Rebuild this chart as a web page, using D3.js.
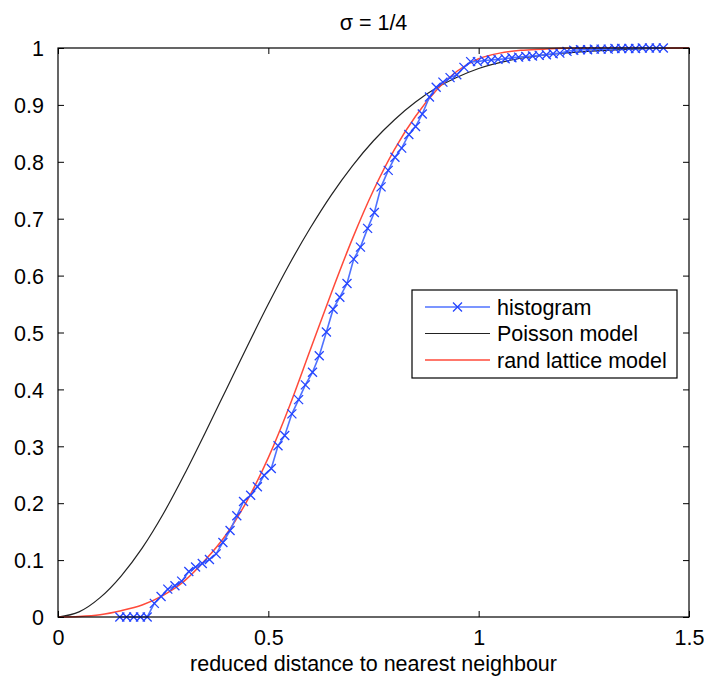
<!DOCTYPE html>
<html>
<head>
<meta charset="utf-8">
<script src="https://cdn.jsdelivr.net/npm/d3@7"></script>
<style>
  html, body { margin: 0; padding: 0; background: #fff; }
  svg text { font-family: "Liberation Sans", Arial, Helvetica, sans-serif; }
</style>
</head>
<body>
<div id="chart"></div>
<script>
(function drawChart() {
  const TITLE = 'σ = 1/4';
  const X_LABEL = 'reduced distance to nearest neighbour';
  const X_TICKS = [0, 0.5, 1, 1.5];
  const X_TICK_LABELS = ['0', '0.5', '1', '1.5'];
  const Y_TICKS = [0, 0.1, 0.2, 0.3, 0.4, 0.5, 0.6, 0.7, 0.8, 0.9, 1];
  const Y_TICK_LABELS = ['0', '0.1', '0.2', '0.3', '0.4', '0.5', '0.6', '0.7', '0.8', '0.9', '1'];
  const LEGEND_LABELS = ['histogram', 'Poisson model', 'rand lattice model'];

  // histogram (blue, x markers)
  const HIST_X = [0.147, 0.163, 0.180, 0.196, 0.212, 0.229, 0.245, 0.261, 0.278, 0.294,
    0.311, 0.327, 0.343, 0.360, 0.376, 0.392, 0.409, 0.425, 0.441, 0.458,
    0.474, 0.490, 0.507, 0.523, 0.539, 0.556, 0.572, 0.588, 0.605, 0.621,
    0.638, 0.654, 0.670, 0.687, 0.703, 0.719, 0.736, 0.752, 0.768, 0.785,
    0.801, 0.817, 0.834, 0.850, 0.866, 0.883, 0.899, 0.915, 0.932, 0.948,
    0.965, 0.981, 0.997, 1.014, 1.030, 1.046, 1.063, 1.079, 1.095, 1.112,
    1.128, 1.144, 1.161, 1.177, 1.193, 1.210, 1.226, 1.242, 1.259, 1.275,
    1.291, 1.308, 1.324, 1.340, 1.357, 1.373, 1.389, 1.406, 1.422, 1.439];
  const HIST_Y = [0, 0, 0, 0, 0, 0.024, 0.036, 0.049, 0.055, 0.063,
    0.080, 0.088, 0.094, 0.101, 0.111, 0.131, 0.152, 0.178, 0.203, 0.214,
    0.229, 0.249, 0.261, 0.301, 0.319, 0.357, 0.382, 0.408, 0.430, 0.459,
    0.501, 0.541, 0.562, 0.586, 0.629, 0.650, 0.683, 0.711, 0.756, 0.785,
    0.808, 0.824, 0.848, 0.862, 0.884, 0.914, 0.931, 0.940, 0.948, 0.953,
    0.966, 0.976, 0.976, 0.978, 0.979, 0.980, 0.981, 0.983, 0.984, 0.985,
    0.986, 0.987, 0.988, 0.990, 0.991, 0.994, 0.996, 0.997, 0.997, 0.998,
    0.998, 0.998, 0.999, 0.999, 0.999, 0.999, 1, 1, 1, 1];

  // Poisson model (black)
  const POIS_X = [0, 0.05, 0.1, 0.15, 0.2, 0.25, 0.3, 0.35, 0.4, 0.45,
    0.5, 0.55, 0.6, 0.65, 0.7, 0.75, 0.8, 0.85, 0.9, 0.95,
    1.0, 1.1, 1.2, 1.3, 1.4, 1.5];
  const POIS_Y = [0, 0.009, 0.034, 0.072, 0.121, 0.181, 0.250, 0.324, 0.400, 0.476,
    0.550, 0.620, 0.684, 0.742, 0.793, 0.837, 0.874, 0.905, 0.930, 0.949,
    0.964, 0.982, 0.991, 0.996, 0.999, 1.0];

  // rand lattice model (red)
  const LAT_X = [0, 0.05, 0.1, 0.15, 0.2, 0.25, 0.3, 0.35, 0.4, 0.45,
    0.5, 0.55, 0.6, 0.65, 0.7, 0.75, 0.8, 0.85, 0.9, 0.95,
    1.0, 1.05, 1.1, 1.15, 1.2, 1.3, 1.5];
  const LAT_Y = [0, 0.001, 0.004, 0.011, 0.021, 0.038, 0.063, 0.10, 0.145, 0.205,
    0.28, 0.37, 0.47, 0.57, 0.665, 0.75, 0.822, 0.88, 0.926, 0.96,
    0.981, 0.991, 0.996, 0.998, 0.9995, 1, 1];

  const width = 704;
  const height = 679;
  const margin = { top: 48, right: 15, bottom: 62, left: 58 };
  const FONT = 21.5;
  const TICK = 6;

  const svg = d3.select('#chart').append('svg')
    .attr('width', width)
    .attr('height', height);

  const x = d3.scaleLinear().domain([0, 1.5]).range([margin.left, width - margin.right]);
  const y = d3.scaleLinear().domain([0, 1]).range([height - margin.bottom, margin.top]);

  const zip = (xs, ys) => xs.map((v, i) => [v, ys[i]]);
  const hist = zip(HIST_X, HIST_Y);
  const pois = zip(POIS_X, POIS_Y);
  const lat = zip(LAT_X, LAT_Y);

  const plot = svg.append('g');

  const smooth = d3.line().x(d => x(d[0])).y(d => y(d[1])).curve(d3.curveMonotoneX);
  const straight = d3.line().x(d => x(d[0])).y(d => y(d[1]));

  plot.append('path').datum(pois)
    .attr('d', smooth).attr('fill', 'none')
    .attr('stroke', '#222').attr('stroke-width', 1.2);

  plot.append('path').datum(lat)
    .attr('d', smooth).attr('fill', 'none')
    .attr('stroke', '#ff4a3a').attr('stroke-width', 1.5);

  plot.append('path').datum(hist)
    .attr('d', straight).attr('fill', 'none')
    .attr('stroke', '#4f72ff').attr('stroke-width', 1.6);

  const cross = (cx, cy, r) => `M${cx - r},${cy - r}L${cx + r},${cy + r}M${cx - r},${cy + r}L${cx + r},${cy - r}`;

  plot.append('g').selectAll('path')
    .data(hist).join('path')
    .attr('d', d => cross(x(d[0]), y(d[1]), 4.5))
    .attr('stroke', '#2545ff').attr('stroke-width', 1.3).attr('fill', 'none');

  // axes box with inward ticks on all sides
  const styleAxis = g => {
    g.select('.domain').remove();
    g.selectAll('line').attr('stroke', '#000');
    g.selectAll('text').attr('fill', '#000').attr('font-size', FONT);
  };

  svg.append('g')
    .attr('transform', `translate(0,${y(0)})`)
    .call(d3.axisBottom(x).tickValues(X_TICKS).tickSizeInner(-TICK).tickSizeOuter(0)
      .tickPadding(10).tickFormat((d, i) => X_TICK_LABELS[i]))
    .call(styleAxis)
    .call(g => g.selectAll('text').attr('dy', '0.85em'));

  svg.append('g')
    .attr('transform', `translate(0,${y(1)})`)
    .call(d3.axisTop(x).tickValues(X_TICKS).tickSizeInner(-TICK).tickSizeOuter(0).tickFormat(''))
    .call(styleAxis);

  svg.append('g')
    .attr('transform', `translate(${x(0)},0)`)
    .call(d3.axisLeft(y).tickValues(Y_TICKS).tickSizeInner(-TICK).tickSizeOuter(0)
      .tickPadding(14).tickFormat((d, i) => Y_TICK_LABELS[i]))
    .call(styleAxis)
    .call(g => g.selectAll('text').attr('dy', '0.36em'));

  svg.append('g')
    .attr('transform', `translate(${x(1.5)},0)`)
    .call(d3.axisRight(y).tickValues(Y_TICKS).tickSizeInner(-TICK).tickSizeOuter(0).tickFormat(''))
    .call(styleAxis);

  svg.append('rect')
    .attr('x', x(0)).attr('y', y(1))
    .attr('width', x(1.5) - x(0)).attr('height', y(0) - y(1))
    .attr('fill', 'none').attr('stroke', '#000').attr('stroke-width', 1.2);

  // title and label
  svg.append('text')
    .attr('x', (x(0) + x(1.5)) / 2).attr('y', 30)
    .attr('text-anchor', 'middle').attr('font-size', FONT)
    .text(TITLE);

  svg.append('text')
    .attr('x', (x(0) + x(1.5)) / 2).attr('y', 671)
    .attr('text-anchor', 'middle').attr('font-size', FONT)
    .text(X_LABEL);

  // legend
  const legend = svg.append('g').attr('transform', 'translate(412,290)');
  legend.append('rect')
    .attr('width', 265).attr('height', 88)
    .attr('fill', '#fff').attr('stroke', '#000').attr('stroke-width', 1.2);

  const legendStyles = [
    { stroke: '#4f72ff', width: 1.6, marker: true },
    { stroke: '#222', width: 1.2, marker: false },
    { stroke: '#ff4a3a', width: 1.5, marker: false }
  ];

  LEGEND_LABELS.forEach((label, i) => {
    const cy = 17 + i * 26.5;
    const st = legendStyles[i];
    legend.append('line')
      .attr('x1', 13).attr('x2', 78).attr('y1', cy).attr('y2', cy)
      .attr('stroke', st.stroke).attr('stroke-width', st.width);
    if (st.marker) {
      legend.append('path')
        .attr('d', cross(45.5, cy, 4.5))
        .attr('stroke', '#2545ff').attr('stroke-width', 1.3).attr('fill', 'none');
    }
    legend.append('text')
      .attr('x', 85).attr('y', cy).attr('dy', '0.36em')
      .attr('font-size', FONT)
      .text(label);
  });
})();
</script>
</body>
</html>
